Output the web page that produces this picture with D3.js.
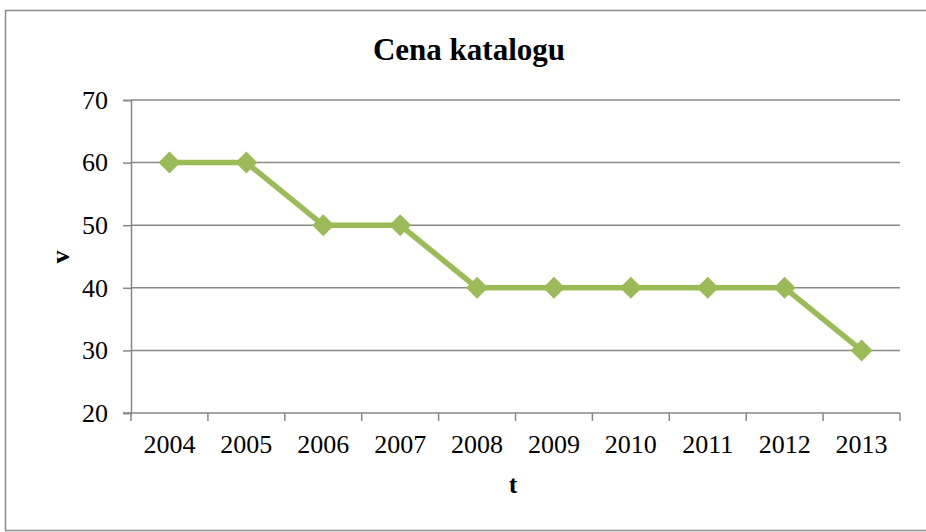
<!DOCTYPE html>
<html><head><meta charset="utf-8">
<script src="https://cdn.jsdelivr.net/npm/d3@7"></script>
<style>body{margin:0;background:#fff}svg{display:block}text{font-family:"Liberation Serif","Times New Roman",serif}</style>
</head><body><svg id="c" width="926" height="532"></svg>
<script>
const years = ["2004","2005","2006","2007","2008","2009","2010","2011","2012","2013"];
const values = [60,60,50,50,40,40,40,40,40,30];
const yTicks = [20,30,40,50,60,70];
const title = "Cena katalogu";
const xTitle = "t";
const yTitle = "v";

const svg = d3.select("#c");
const grid = "#878787";
svg.append("rect").attr("x",5.5).attr("y",10.5).attr("width",930).attr("height",520)
  .attr("fill","#fff").attr("stroke","#8c8c8c").attr("stroke-width",1.5);

const L=131,R=900,T=100,B=413;
const x = d3.scaleBand().domain(years).range([L,R]);
const y = d3.scaleLinear().domain([20,70]).range([B,T]);

const g = svg.append("g");
g.selectAll(".gl").data(yTicks.slice(1)).join("line")
  .attr("x1",L).attr("x2",R).attr("y1",d=>y(d)).attr("y2",d=>y(d))
  .attr("stroke",grid).attr("stroke-width",1.5);

const ya = g.append("g").attr("transform",`translate(${L},0)`)
  .call(d3.axisLeft(y).tickValues(yTicks).tickSize(8).tickPadding(15));
ya.select(".domain").attr("stroke",grid).attr("stroke-width",1.5);
ya.selectAll(".tick line").attr("stroke",grid).attr("stroke-width",1.5);
ya.selectAll("text").attr("font-family",null).attr("font-size",26).attr("fill","#000");

const xa = g.append("g").attr("transform",`translate(0,${B})`);
xa.append("line").attr("x1",L-8).attr("x2",R).attr("y1",0).attr("y2",0).attr("stroke",grid).attr("stroke-width",1.5);
const bounds = years.map(d=>x(d)).concat([R]);
xa.selectAll(".tk").data(bounds).join("line")
  .attr("x1",d=>d).attr("x2",d=>d).attr("y1",0).attr("y2",8).attr("stroke",grid).attr("stroke-width",1.5);
xa.selectAll(".lb").data(years).join("text")
  .attr("x",d=>x(d)+x.bandwidth()/2).attr("y",40).attr("text-anchor","middle")
  .attr("font-size",26).attr("fill","#000").text(d=>d);

const line = d3.line().x((d,i)=>x(years[i])+x.bandwidth()/2).y(d=>y(d));
g.append("path").datum(values).attr("d",line).attr("fill","none")
  .attr("stroke","#9BBB59").attr("stroke-width",5.5).attr("stroke-linejoin","round");
g.selectAll(".mk").data(values).join("path")
  .attr("d","M0,-11L11,0L0,11L-11,0Z")
  .attr("transform",(d,i)=>`translate(${x(years[i])+x.bandwidth()/2},${y(d)})`)
  .attr("fill","#9BBB59");

svg.append("text").attr("x",469).attr("y",60).attr("text-anchor","middle")
  .attr("font-weight","bold").attr("font-size",31).text(title);
svg.append("text").attr("x",513).attr("y",493).attr("text-anchor","middle")
  .attr("font-weight","bold").attr("font-size",26).text(xTitle);
svg.append("text").attr("transform","translate(69,257) rotate(-90)").attr("text-anchor","middle")
  .attr("font-weight","bold").attr("font-size",26).text(yTitle);
</script></body></html>
